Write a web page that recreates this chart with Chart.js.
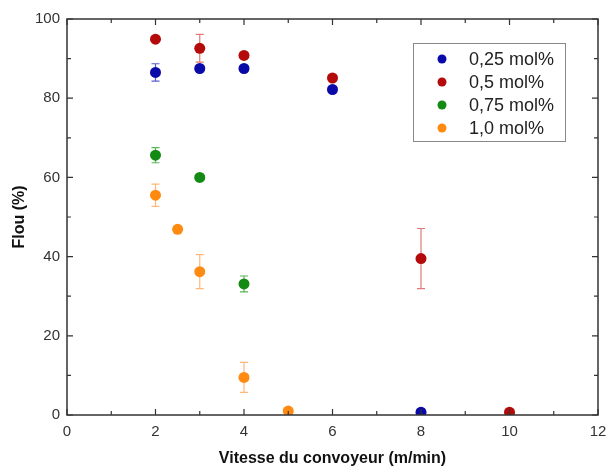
<!DOCTYPE html>
<html>
<head>
<meta charset="utf-8">
<script src="https://cdn.jsdelivr.net/npm/chart.js@4/dist/chart.umd.min.js"></script>
<style>
  body { margin: 0; background: #fff; }
  #wrap { width: 606px; height: 468px; }
</style>
</head>
<body>
<div id="wrap"><canvas id="myChart"></canvas></div>
<script>
// données
const labels = ["0,25 mol%", "0,5 mol%", "0,75 mol%", "1,0 mol%"];

const x025 = [2, 3, 4, 6, 8];
const y025 = [86.5, 87.5, 87.5, 82.2, 0.7];
const e025 = [2.2, 0, 0, 0, 0];

const x05 = [2, 3, 4, 6, 8, 10];
const y05 = [94.9, 92.6, 90.8, 85.1, 39.5, 0.7];
const e05 = [0, 3.5, 0, 0, 7.6, 0];

const x075 = [2, 3, 4];
const y075 = [65.6, 60.0, 33.1];
const e075 = [1.9, 0, 2.0];

const x10 = [2, 2.5, 3, 4, 5];
const y10 = [55.5, 46.9, 36.2, 9.5, 1.0];
const e10 = [2.8, 0, 4.3, 3.8, 0];

const xTicks = [0, 2, 4, 6, 8, 10, 12];
const yTicks = [0, 20, 40, 60, 80, 100];

// couleurs
const colors    = ["#0a0aa8", "#b40a0a", "#138a13", "#ff8a12"];
const errColors = ["#5a5ad0", "#e07a7a", "#5ab45a", "#ffb878"];

const xs = [x025, x05, x075, x10];
const ys = [y025, y05, y075, y10];
const es = [e025, e05, e075, e10];

const datasets = labels.map((lab, i) => ({
  label: lab,
  data: xs[i].map((x, j) => ({ x: x, y: ys[i][j] })),
  err: es[i],
  backgroundColor: colors[i],
  borderColor: colors[i],
  pointRadius: 5.5,
  pointHoverRadius: 5.5,
  borderWidth: 0,
}));

// barres d'erreur, cadre, graduations internes et légende
const extras = {
  id: "extras",
  beforeDatasetsDraw(chart) {
    const { ctx } = chart;
    const sx = chart.scales.x, sy = chart.scales.y;
    ctx.save();
    ctx.lineWidth = 1.2;
    chart.data.datasets.forEach((ds, i) => {
      ctx.strokeStyle = errColors[i];
      ds.data.forEach((p, j) => {
        const e = ds.err[j];
        if (!e) return;
        const px = sx.getPixelForValue(p.x);
        const top = sy.getPixelForValue(p.y + e);
        const bot = sy.getPixelForValue(p.y - e);
        ctx.beginPath();
        ctx.moveTo(px, top); ctx.lineTo(px, bot);
        ctx.moveTo(px - 4, top); ctx.lineTo(px + 4, top);
        ctx.moveTo(px - 4, bot); ctx.lineTo(px + 4, bot);
        ctx.stroke();
      });
    });
    ctx.restore();
  },
  afterDraw(chart) {
    const { ctx, chartArea: a } = chart;
    const sx = chart.scales.x, sy = chart.scales.y;
    ctx.save();
    ctx.strokeStyle = "#333";
    ctx.lineWidth = 1.5;
    ctx.strokeRect(a.left, a.top, a.right - a.left, a.bottom - a.top);

    ctx.lineWidth = 1.2;
    ctx.beginPath();
    for (let v = 0; v <= 12; v += 1) {
      const px = sx.getPixelForValue(v);
      const len = v % 2 === 0 ? 6 : 4;
      ctx.moveTo(px, a.bottom); ctx.lineTo(px, a.bottom - len);
      ctx.moveTo(px, a.top); ctx.lineTo(px, a.top + len);
    }
    for (let v = 0; v <= 100; v += 10) {
      const py = sy.getPixelForValue(v);
      const len = v % 20 === 0 ? 6 : 4;
      ctx.moveTo(a.left, py); ctx.lineTo(a.left + len, py);
      ctx.moveTo(a.right, py); ctx.lineTo(a.right - len, py);
    }
    ctx.stroke();

    // légende
    ctx.strokeStyle = "#888";
    ctx.lineWidth = 1;
    ctx.strokeRect(413.5, 43.5, 152, 98);
    ctx.font = "18px 'Liberation Sans', Arial, sans-serif";
    ctx.textBaseline = "middle";
    labels.forEach((lab, i) => {
      const y = 59 + i * 23;
      ctx.beginPath();
      ctx.fillStyle = colors[i];
      ctx.arc(442, y, 4.5, 0, Math.PI * 2);
      ctx.fill();
      ctx.fillStyle = "#222";
      ctx.fillText(lab, 469, y + 1);
    });
    ctx.restore();
  }
};

const tickFont = { family: "'Liberation Sans', Arial, sans-serif", size: 15 };
const titleFont = { family: "'Liberation Sans', Arial, sans-serif", size: 16, weight: "bold" };

const config = {
  type: "scatter",
  data: { datasets: datasets },
  plugins: [extras],
  options: {
    responsive: true,
    maintainAspectRatio: false,
    animation: false,
    layout: { padding: { top: 19, right: 8, left: 6, bottom: 0 } },
    plugins: {
      legend: { display: false },
      tooltip: { enabled: false },
    },
    scales: {
      x: {
        type: "linear",
        min: 0, max: 12,
        afterBuildTicks: (s) => { s.ticks = xTicks.map(v => ({ value: v })); },
        afterFit: (s) => { s.height = 53; s.paddingRight = 0; s.paddingLeft = 0; },
        grid: { display: false, drawTicks: false },
        border: { display: false },
        ticks: { color: "#333", font: tickFont, padding: 8 },
        title: { display: true, text: "Vitesse du convoyeur (m/min)", color: "#111", font: titleFont, padding: { top: 10, bottom: 0 } },
      },
      y: {
        min: 0, max: 100,
        afterBuildTicks: (s) => { s.ticks = yTicks.map(v => ({ value: v })); },
        afterFit: (s) => { s.width = 61; },
        grid: { display: false, drawTicks: false },
        border: { display: false },
        ticks: { color: "#333", font: tickFont, padding: 7 },
        title: { display: true, text: "Flou (%)", color: "#111", font: titleFont, padding: { bottom: 4 } },
      }
    }
  }
};

const ctx = document.getElementById("myChart");
const myChart = new Chart(ctx, config);
</script>
</body>
</html>
